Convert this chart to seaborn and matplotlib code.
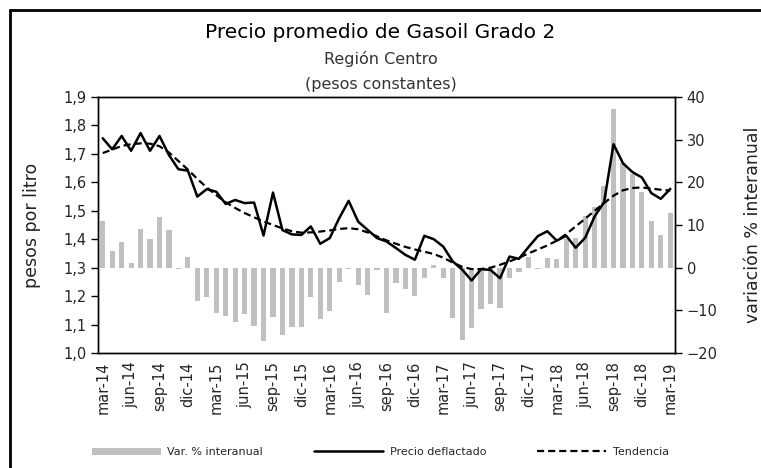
import numpy as np
import pandas as pd
import matplotlib
matplotlib.use('Agg')
import matplotlib.pyplot as plt
from matplotlib.lines import Line2D
from matplotlib.patches import Patch
import seaborn as sns

# precio deflactado ($/litro), mar-14 .. mar-19
precio = [1.755, 1.716, 1.763, 1.711, 1.773, 1.711, 1.763, 1.696, 1.646, 1.641,
          1.550, 1.576, 1.567, 1.524, 1.538, 1.527, 1.529, 1.413, 1.564, 1.432,
          1.417, 1.415, 1.445, 1.384, 1.404, 1.474, 1.535, 1.462, 1.433, 1.404,
          1.392, 1.369, 1.345, 1.328, 1.412, 1.400, 1.374, 1.322, 1.293, 1.255,
          1.295, 1.292, 1.263, 1.339, 1.331, 1.372, 1.411, 1.428, 1.395, 1.412,
          1.370, 1.405, 1.480, 1.530, 1.734, 1.667, 1.636, 1.617, 1.562, 1.542,
          1.577]

tendencia = [1.703, 1.715, 1.728, 1.734, 1.737, 1.736, 1.727, 1.705, 1.675, 1.645,
             1.612, 1.582, 1.555, 1.530, 1.510, 1.492, 1.477, 1.463, 1.450, 1.438,
             1.428, 1.423, 1.424, 1.427, 1.431, 1.436, 1.439, 1.435, 1.424, 1.410,
             1.396, 1.384, 1.373, 1.364, 1.356, 1.348, 1.335, 1.318, 1.303, 1.295,
             1.295, 1.300, 1.310, 1.322, 1.335, 1.350, 1.364, 1.378, 1.395, 1.418,
             1.445, 1.472, 1.500, 1.527, 1.553, 1.572, 1.580, 1.582, 1.578, 1.574,
             1.571]

# variacion % interanual
var_ia = [10.9, 3.8, 5.9, 1.0, 9.1, 6.7, 11.8, 8.8, -0.3, 2.5,
          -7.7, -6.8, -10.7, -11.3, -12.8, -10.9, -13.6, -17.3, -11.5, -15.8,
          -14.0, -14.0, -6.8, -12.1, -10.2, -3.3, -0.4, -4.1, -6.3, -0.6,
          -10.7, -3.7, -5.0, -6.6, -2.5, 0.6, -2.5, -11.9, -17.0, -14.2,
          -9.7, -8.6, -9.4, -2.5, -0.9, 2.4, -0.2, 2.2, 2.0, 6.7,
          7.0, 12.0, 14.3, 19.1, 37.1, 24.5, 21.9, 17.8, 10.9, 7.7,
          12.7]

etiquetas = ['mar-14', 'jun-14', 'sep-14', 'dic-14', 'mar-15', 'jun-15', 'sep-15',
             'dic-15', 'mar-16', 'jun-16', 'sep-16', 'dic-16', 'mar-17', 'jun-17',
             'sep-17', 'dic-17', 'mar-18', 'jun-18', 'sep-18', 'dic-18', 'mar-19']

df = pd.DataFrame({'mes': np.arange(len(precio)), 'precio': precio,
                   'tendencia': tendencia, 'var': var_ia})

sns.set_theme(style='white')
plt.rcParams['font.family'] = ['DejaVu Sans']

fig = plt.figure(figsize=(7.61, 4.68), dpi=100)
W, H = 761, 468
ax = fig.add_axes([98 / W, 1 - 353 / H, (675 - 98) / W, (353 - 97) / H])

# barras (eje derecho)
sns.barplot(data=df, x='mes', y='var', ax=ax, color='#c0c0c0', saturation=1,
            width=0.55, linewidth=0)

# lineas (eje izquierdo)
ax2 = ax.twinx()
sns.lineplot(data=df, x='mes', y='precio', ax=ax2, color='black', lw=1.8)
sns.lineplot(data=df, x='mes', y='tendencia', ax=ax2, color='black', lw=1.6,
             linestyle=(0, (3.2, 1.8)))

ax.set_ylim(-20, 40)
ax.set_yticks(range(-20, 41, 10))
ax.yaxis.tick_right()
ax.yaxis.set_label_position('right')
ax.set_ylabel('variación % interanual', fontsize=12.5, color='#222222')
ax.yaxis.set_label_coords((744 - 98) / 577, 0.5)

ax2.set_ylim(1.0, 1.9)
ax2.set_yticks(np.arange(1.0, 1.91, 0.1))
ax2.set_yticklabels([f'{v:.1f}'.replace('.', ',') for v in np.arange(1.0, 1.91, 0.1)])
ax2.yaxis.tick_left()
ax2.yaxis.set_label_position('left')
ax2.set_ylabel('pesos por litro', fontsize=12.5, color='#222222')
ax2.yaxis.set_label_coords((41 - 98) / 577, 0.5)
ax2.set_xlabel('')

# eje x
ax.set_xlim(-0.5, len(precio) - 0.5)
pos = np.arange(0, len(precio), 3)
ax.set_xticks(pos)
ax.set_xticklabels(etiquetas, rotation=90, fontsize=10.5)
ax.set_xticks(pos - 0.5, minor=True)
ax.tick_params(axis='x', which='major', length=0, pad=6)
ax.tick_params(axis='x', which='minor', length=5, width=1, color='black', direction='out')
ax.set_xlabel('')

for a in (ax, ax2):
    for s in a.spines.values():
        s.set_color('black')
        s.set_linewidth(1)
ax.tick_params(axis='y', length=5, width=1, color='black', labelsize=10.5, direction='out',
               left=False, right=True, labelleft=False, labelright=True)
ax2.tick_params(axis='y', length=5, width=1, color='black', labelsize=10.5, direction='out',
                left=True, right=False, labelleft=True, labelright=False)
ax2.tick_params(axis='x', length=0)

# titulos
fig.text(0.5, 1 - 32 / H, 'Precio promedio de Gasoil Grado 2', ha='center', va='center', fontsize=14.5, color='black')
fig.text(0.5, 1 - 59 / H, 'Región Centro', ha='center', va='center', fontsize=11.5, color='#333333')
fig.text(0.5, 1 - 85 / H, '(pesos constantes)', ha='center', va='center', fontsize=11.5, color='#333333')

# leyenda
handles = [Patch(facecolor='#c0c0c0', edgecolor='none'),
           Line2D([], [], color='black', lw=1.8),
           Line2D([], [], color='black', lw=1.6, linestyle=(0, (3.2, 1.8)))]
fig.legend(handles, ['Var. % interanual', 'Precio deflactado', 'Tendencia'],
           loc='center', bbox_to_anchor=(0.5, 1 - 452 / H), ncol=3, frameon=False,
           fontsize=8, handlelength=6.2, handleheight=0.6, columnspacing=4.6,
           handletextpad=0.6)

# marco de la figura
fig.add_artist(Line2D([10 / W, 1], [1 - 10 / H, 1 - 10 / H], transform=fig.transFigure, color='black', lw=2))
fig.add_artist(Line2D([10 / W, 10 / W], [0, 1 - 10 / H], transform=fig.transFigure, color='black', lw=2))

fig.savefig('out.png', dpi=100)
